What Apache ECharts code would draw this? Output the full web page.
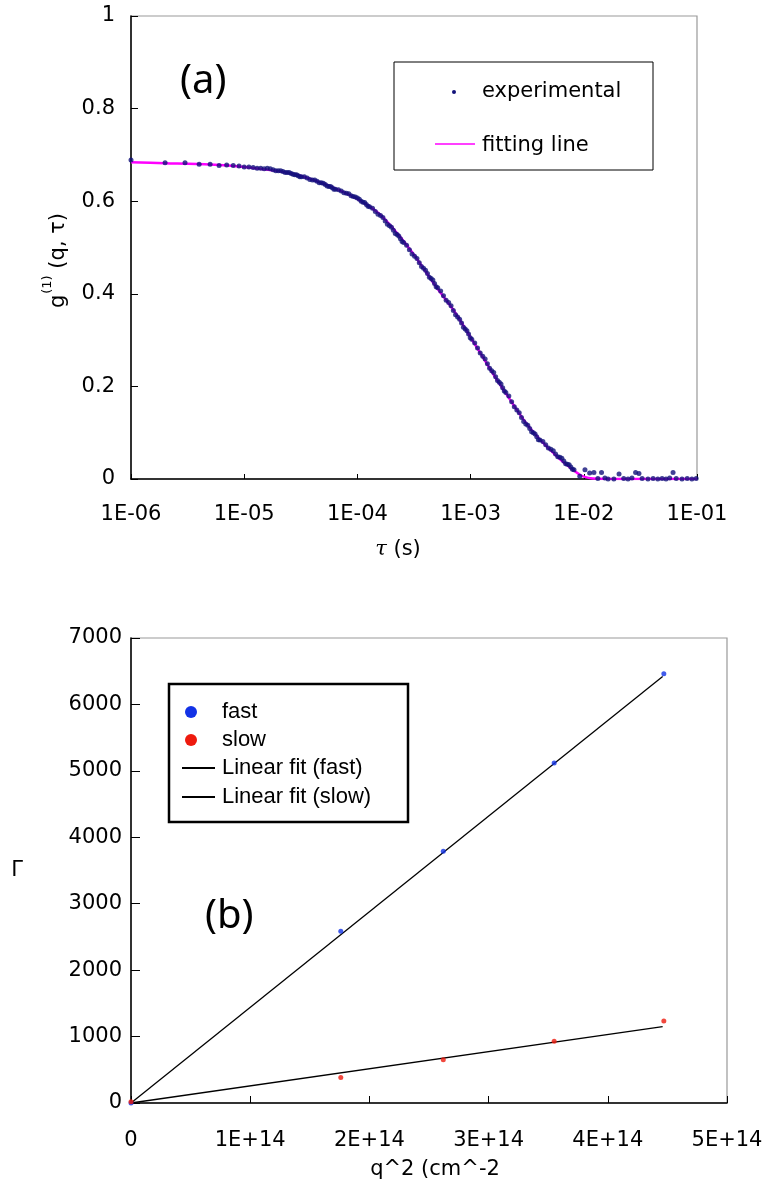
<!DOCTYPE html>
<html>
<head>
<meta charset="utf-8">
<script src="https://cdn.jsdelivr.net/npm/echarts@6/dist/echarts.min.js"></script>
<style>
html,body{margin:0;padding:0;background:#fff;}
#chart{width:773px;height:1187px;}
</style>
</head>
<body>
<div id="chart"></div>
<script>
// ---------- Panel (a) data ----------
// lag times in microseconds (multi-tau channels)
const tauUs = [1,2,3,4,5,6,7,8,9,10,11,12,13,14,15,16,
  18,20,22,24,26,28,30,32,
  36,40,44,48,52,56,60,64,
  72,80,88,96,104,112,120,128,
  144,160,176,192,208,224,240,256,
  288,320,352,384,416,448,480,512,
  576,640,704,768,832,896,960,1024,
  1152,1280,1408,1536,1664,1792,1920,2048,
  2304,2560,2816,3072,3328,3584,3840,4096,
  4608,5120,5632,6144,6656,7168,7680,8192,
  9216,10240,11264,12288,13312,14336,15360,16384,
  18432,20480,22528,24576,26624,28672,30720,32768,
  36864,40960,45056,49152,53248,57344,61440,65536,
  73728,81920,90112,98304];
const gExp = [0.689,0.683,0.683,0.680,0.680,0.677,0.678,0.677,0.676,0.674,0.674,0.673,0.671,0.671,0.670,0.671,
  0.668,0.666,0.664,0.662,0.660,0.657,0.655,0.653,
  0.650,0.646,0.643,0.640,0.636,0.632,0.629,0.626,
  0.622,0.617,0.612,0.609,0.604,0.598,0.593,0.588,
  0.578,0.569,0.557,0.547,0.537,0.528,0.519,0.511,
  0.495,0.481,0.467,0.455,0.444,0.433,0.422,0.413,
  0.396,0.381,0.364,0.350,0.337,0.324,0.313,0.302,
  0.283,0.265,0.249,0.234,0.221,0.209,0.197,0.187,
  0.167,0.149,0.133,0.119,0.109,0.100,0.091,0.084,
  0.074,0.064,0.054,0.047,0.039,0.032,0.026,0.020,
  0.006,0.020,0.013,0.014,0.001,0.014,0.002,0.000,
  0.000,0.011,0.001,0.000,0.002,0.014,0.012,0.001,
  0.000,0.001,0.000,0.001,0.000,0.002,0.014,0.001,
  0.000,0.001,0.000,0.001];
// second interleaved set of channels (dense part of the curve)
const tauUs2 = [17,19,21,23,25,27,29,31,
  34,38,42,46,50,54,58,62,
  68,76,84,92,100,108,116,124,
  136,152,168,184,200,216,232,248,
  272,304,336,368,400,432,464,496,
  544,608,672,736,800,864,928,992,
  1088,1216,1344,1472,1600,1728,1856,1984,
  2176,2432,2688,2944,3200,3456,3712,3968,
  4352,4864,5376,5888,6400,6912,7424,7936];
const gExp2 = [0.670,0.666,0.666,0.662,0.662,0.658,0.657,0.653,
  0.653,0.647,0.646,0.640,0.639,0.633,0.632,0.626,
  0.625,0.618,0.616,0.610,0.607,0.600,0.597,0.589,
  0.585,0.572,0.565,0.550,0.544,0.530,0.525,0.513,
  0.505,0.486,0.476,0.459,0.451,0.436,0.430,0.415,
  0.406,0.386,0.374,0.355,0.345,0.328,0.320,0.305,
  0.294,0.272,0.259,0.239,0.230,0.213,0.205,0.190,
  0.179,0.156,0.143,0.124,0.116,0.102,0.097,0.085,
  0.081,0.067,0.061,0.048,0.045,0.033,0.031,0.021];
// fitting line (tau in seconds)
const tauFit = [1e-6,2e-6,5e-6,1e-5,2e-5,3e-5,5e-5,7e-5,1e-4,1.5e-4,2e-4,3e-4,5e-4,7e-4,1e-3,1.5e-3,2e-3,3e-3,4e-3,5e-3,6e-3,7e-3,8e-3,9e-3,1e-2,1.2e-2,2e-2,5e-2,1e-1];
const gFit = [0.684,0.682,0.679,0.674,0.665,0.656,0.638,0.623,0.605,0.576,0.545,0.492,0.414,0.366,0.306,0.236,0.189,0.125,0.088,0.064,0.045,0.031,0.020,0.011,0.005,0.001,0,0,0];
const xTickLabelsA = ['1E-06','1E-05','1E-04','1E-03','1E-02','1E-01'];

// ---------- Panel (b) data ----------
const q2 = [0, 1.76e14, 2.62e14, 3.55e14, 4.47e14];
const gammaFast = [0, 2585, 3790, 5120, 6460];
const gammaSlow = [20, 385, 650, 930, 1235];
const fitQ2 = [0, 4.46e14];
const fitFast = [0, 6420];
const fitSlow = [0, 1150];
const xTickLabelsB = ['0','1E+14','2E+14','3E+14','4E+14','5E+14'];

const zip = (a, b, s) => a.map((v, i) => [v * (s || 1), b[i]]);

const tickFont = {fontFamily: 'DejaVu Sans', fontSize: 21, color: '#000'};
const navy = '#12127a';

const chart = echarts.init(document.getElementById('chart'), null, {renderer: 'canvas'});
chart.setOption({
  animation: false,
  backgroundColor: '#fff',
  grid: [
    {left: 131, top: 16, width: 566, height: 463, show: true, borderColor: '#999', borderWidth: 1.2, backgroundColor: 'transparent'},
    {left: 131, top: 638, width: 596, height: 465, show: true, borderColor: '#999', borderWidth: 1.2, backgroundColor: 'transparent'}
  ],
  xAxis: [
    {gridIndex: 0, type: 'log', logBase: 10, min: 1e-6, max: 1e-1,
      axisLine: {show: true, onZero: false, lineStyle: {color: '#000', width: 1.5}},
      axisTick: {show: true, inside: true, length: 5, lineStyle: {color: '#000'}},
      minorTick: {show: false}, splitLine: {show: false},
      axisLabel: Object.assign({margin: 25, formatter: v => xTickLabelsA[Math.round(Math.log10(v)) + 6]}, tickFont),
      name: '{t|τ} (s)', nameLocation: 'middle', nameGap: 60,
      nameTextStyle: {fontFamily: 'DejaVu Sans', fontSize: 21, color: '#000', padding: [0, 32, 0, 0],
        rich: {t: {fontFamily: 'DejaVu Serif', fontStyle: 'italic', fontSize: 21}}}
    },
    {gridIndex: 1, type: 'value', min: 0, max: 5e14, interval: 1e14,
      axisLine: {show: true, onZero: false, lineStyle: {color: '#000', width: 1.5}},
      axisTick: {show: true, inside: true, length: 7, lineStyle: {color: '#000'}},
      splitLine: {show: false},
      axisLabel: Object.assign({margin: 27, formatter: v => xTickLabelsB[Math.round(v / 1e14)]}, tickFont),
      name: 'q^2 (cm^-2', nameLocation: 'middle', nameGap: 56,
      nameTextStyle: {fontFamily: 'DejaVu Sans', fontSize: 21, color: '#000', padding: [0, 0, 0, 12]}
    }
  ],
  yAxis: [
    {gridIndex: 0, type: 'value', min: 0, max: 1, interval: 0.2,
      axisLine: {show: true, onZero: false, lineStyle: {color: '#000', width: 1.5}},
      axisTick: {show: true, inside: true, length: 7, lineStyle: {color: '#000'}},
      splitLine: {show: false},
      axisLabel: Object.assign({margin: 16, formatter: v => String(+v.toFixed(1))}, tickFont),
      name: '{g|g}{s|(1)}{n| (q, τ)}', nameLocation: 'middle', nameGap: 62, nameRotate: 90,
      nameTextStyle: {fontFamily: 'DejaVu Sans', fontSize: 21, color: '#000', padding: [0, 26, 0, 0],
        rich: {g: {fontFamily: 'DejaVu Sans', fontSize: 21, lineHeight: 28, verticalAlign: 'bottom'},
               s: {fontFamily: 'DejaVu Sans', fontSize: 13, lineHeight: 28, verticalAlign: 'top', padding: [0, 0, 8, 1]},
               n: {fontFamily: 'DejaVu Sans', fontSize: 21, lineHeight: 28, verticalAlign: 'bottom'}}}
    },
    {gridIndex: 1, type: 'value', min: 0, max: 7000, interval: 1000,
      axisLine: {show: true, onZero: false, lineStyle: {color: '#000', width: 1.5}},
      axisTick: {show: true, inside: true, length: 9, lineStyle: {color: '#000'}},
      splitLine: {show: false},
      axisLabel: Object.assign({margin: 9, formatter: v => String(v)}, tickFont),
      name: 'Γ', nameLocation: 'middle', nameGap: 108, nameRotate: 0,
      nameTextStyle: {fontFamily: 'DejaVu Sans', fontSize: 21, color: '#000'}
    }
  ],
  series: [
    {name: 'fitting line', type: 'line', xAxisIndex: 0, yAxisIndex: 0, data: zip(tauFit, gFit),
      symbol: 'none', smooth: 0.3, lineStyle: {color: '#ff00ff', width: 2.5}, z: 2},
    {name: 'experimental', type: 'scatter', xAxisIndex: 0, yAxisIndex: 0,
      data: zip(tauUs, gExp, 1e-6).concat(zip(tauUs2, gExp2, 1e-6)),
      symbol: 'circle', symbolSize: 5, itemStyle: {color: navy}, z: 3},
    {name: 'Linear fit (fast)', type: 'line', xAxisIndex: 1, yAxisIndex: 1, data: zip(fitQ2, fitFast),
      symbol: 'none', lineStyle: {color: '#000', width: 1.3}, z: 2},
    {name: 'Linear fit (slow)', type: 'line', xAxisIndex: 1, yAxisIndex: 1, data: zip(fitQ2, fitSlow),
      symbol: 'none', lineStyle: {color: '#000', width: 1.3}, z: 2},
    {name: 'fast', type: 'scatter', xAxisIndex: 1, yAxisIndex: 1, data: zip(q2, gammaFast),
      symbol: 'circle', symbolSize: 5, itemStyle: {color: '#1232e6'}, z: 3},
    {name: 'slow', type: 'scatter', xAxisIndex: 1, yAxisIndex: 1, data: zip(q2, gammaSlow),
      symbol: 'circle', symbolSize: 5, itemStyle: {color: '#ee1a0e'}, z: 4}
  ],
  graphic: [
    // panel labels
    {type: 'text', left: 180, top: 62, style: {text: '(a)', fontFamily: 'Noto Sans', fontSize: 40, fill: '#000'}},
    {type: 'text', left: 205, top: 897, style: {text: '(b)', fontFamily: 'Noto Sans', fontSize: 40, fill: '#000'}},
    // legend (a)
    {type: 'rect', shape: {x: 394, y: 62, width: 259, height: 108}, style: {fill: '#fff', stroke: '#000', lineWidth: 1}, z: 10},
    {type: 'circle', shape: {cx: 454, cy: 92, r: 2}, style: {fill: navy}, z: 11},
    {type: 'text', x: 482, y: 92, style: {text: 'experimental', fontFamily: 'DejaVu Sans', fontSize: 21, fill: '#000', verticalAlign: 'middle'}, z: 11},
    {type: 'line', shape: {x1: 435, y1: 144, x2: 475, y2: 144}, style: {stroke: '#ff00ff', lineWidth: 1.5}, z: 11},
    {type: 'text', x: 482, y: 146, style: {text: 'fitting line', fontFamily: 'DejaVu Sans', fontSize: 21, fill: '#000', verticalAlign: 'middle'}, z: 11},
    // legend (b)
    {type: 'rect', shape: {x: 169, y: 684, width: 239, height: 138}, style: {fill: '#fff', stroke: '#000', lineWidth: 2.5}, z: 10},
    {type: 'circle', shape: {cx: 191, cy: 712, r: 6}, style: {fill: '#1232e6'}, z: 11},
    {type: 'text', x: 222, y: 712, style: {text: 'fast', fontFamily: 'Liberation Sans', fontSize: 22, fill: '#000', verticalAlign: 'middle'}, z: 11},
    {type: 'circle', shape: {cx: 191, cy: 740, r: 6}, style: {fill: '#ee1a0e'}, z: 11},
    {type: 'text', x: 222, y: 740, style: {text: 'slow', fontFamily: 'Liberation Sans', fontSize: 22, fill: '#000', verticalAlign: 'middle'}, z: 11},
    {type: 'line', shape: {x1: 182, y1: 768, x2: 215, y2: 768}, style: {stroke: '#000', lineWidth: 2}, z: 11},
    {type: 'text', x: 222, y: 768, style: {text: 'Linear fit (fast)', fontFamily: 'Liberation Sans', fontSize: 22, fill: '#000', verticalAlign: 'middle'}, z: 11},
    {type: 'line', shape: {x1: 182, y1: 797, x2: 215, y2: 797}, style: {stroke: '#000', lineWidth: 2}, z: 11},
    {type: 'text', x: 222, y: 797, style: {text: 'Linear fit (slow)', fontFamily: 'Liberation Sans', fontSize: 22, fill: '#000', verticalAlign: 'middle'}, z: 11}
  ]
});
</script>
</body>
</html>
